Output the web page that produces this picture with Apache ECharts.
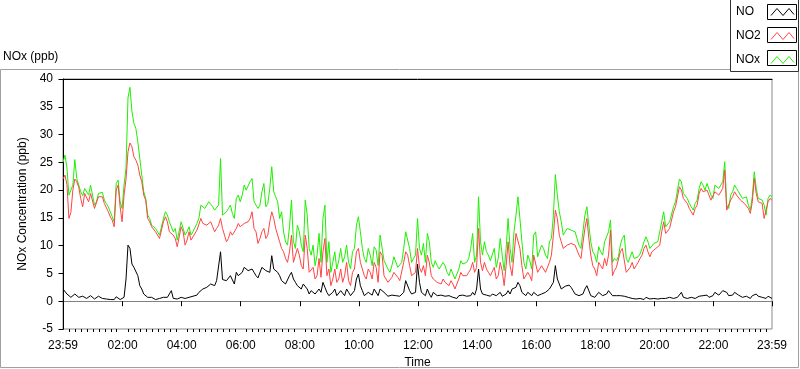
<!DOCTYPE html>
<html><head><meta charset="utf-8">
<script src="https://cdn.jsdelivr.net/npm/echarts@6/dist/echarts.min.js"></script>
<style>html,body{margin:0;padding:0;background:#fff}#c{width:800px;height:369px}</style>
</head><body><div id="c"></div>
<script>
// ---- data (minutes relative to midnight; first sample 23:59 previous day, one sample every 4 minutes)
const seriesNames = ['NO', 'NO2', 'NOx'];
const startMinute = -1;
const stepMinutes = 4;

const noValues = [
 2.2, 1.9, 1.3, 1.0, 0.7, 1.0, 1.3, 1.3, 0.7, 0.4,
 0.9, 1.0, 0.5, 0.7, 1, 1.3, 0.4, 0.5, 0.9, 1.0,
 0.5, 0.5, 0.4, 0.4, 0.3, 0.5, 0.3, 0.8, 0.7, 0.3,
 0.3, 0.7, 4, 10.1, 9.5, 6.7, 6.1, 5.8, 4.6, 2.8,
 2.2, 1.3, 1, 0.7, 0.5, 0.7, 1, 0.3, 0.3, 0.5,
 0.4, 0.7, 0.5, 0.7, 1.3, 1.9, 0.5, 0.5, 0.4, 0.4,
 0.7, 0.7, 0.5, 0.5, 0.7, 0.9, 0.9, 1.0, 1.1, 1.6,
 1.9, 2.2, 2.3, 2.5, 2.8, 3.1, 3, 2.8, 3.7, 4.0,
 8.9, 3.9, 3.7, 3.7, 3.9, 4.6, 4.3, 3.1, 5.2, 4.6,
 4.3, 5.2, 6.1, 6.1, 5.5, 5.5, 5.8, 5.2, 4.6, 4.2,
 4.3, 6.1, 5.8, 5.5, 5.2, 5.2, 8.2, 5.8, 5.8, 5.2,
 4.6, 3.7, 3.4, 3.1, 2.8, 4.6, 5.2, 4.0, 3.4, 2.8,
 2.8, 2.2, 3.1, 3.4, 2.2, 1.3, 1.9, 2.2, 1.3, 1.3,
 2.2, 1.6, 3.4, 2.5, 1.6, 1.0, 1.3, 1.6, 2.2, 1.0,
 1.1, 1.9, 1.6, 1.0, 2.2, 1.6, 1, 1.3, 1.9, 4.0,
 4.9, 2.8, 1.9, 1.0, 1, 1.6, 1.6, 1.1, 2.2, 2.5,
 1, 2.2, 2.5, 1.6, 1.3, 0.9, 1, 1.1, 1.3, 1.0,
 0.9, 0.9, 1, 1.6, 3.7, 3.4, 1.9, 1.3, 1.3, 1.6,
 6.7, 3.4, 1.6, 1.3, 1, 2.2, 1.3, 0.7, 1.6, 1.3,
 1, 0.9, 1.1, 1.3, 0.9, 0.9, 1, 0.7, 0.7, 0.4,
 0.5, 1.0, 1.3, 1.1, 1, 0.9, 0.9, 1.0, 1.6, 1.1,
 2.2, 5.8, 2.2, 1.3, 1.6, 1.1, 1, 0.9, 1.3, 1.6,
 1, 1.0, 1.6, 0.9, 0.7, 1.3, 1.9, 1.3, 2.2, 1.9,
 2.5, 3.4, 2.8, 1.6, 1.3, 1.0, 1.6, 1.3, 1, 1.6,
 1.3, 1.0, 1, 1.3, 1.1, 1.6, 1.9, 2.2, 2.2, 3.4,
 6.4, 4.0, 3.1, 2.2, 2.2, 2.7, 2.8, 2.9, 2.5, 1.9,
 1.3, 1.0, 1, 1.0, 1.3, 2.2, 2.8, 2.8, 1, 0.9,
 0.7, 0.7, 1.6, 1.3, 1, 1.0, 1.3, 1.9, 1.9, 1.0,
 1, 1.0, 0.9, 1.0, 1.1, 0.9, 0.7, 0.7, 0.7, 0.5,
 0.5, 0.4, 0.5, 0.5, 0.4, 0.3, 0.7, 0.7, 0.4, 0.5,
 0.5, 0.4, 0.4, 0.5, 0.5, 0.4, 0.5, 0.5, 0.7, 0.5,
 0.5, 0.7, 0.7, 0.9, 1.6, 0.7, 0.7, 0.5, 0.5, 0.7,
 0.5, 0.5, 0.7, 0.9, 1, 1.0, 0.9, 1.1, 0.7, 0.9,
 1, 1.6, 1.3, 1.1, 1, 1.9, 1.7, 1.6, 1, 0.9,
 1.1, 1.6, 1.5, 1.1, 0.9, 0.7, 0.7, 0.9, 0.7, 0.5,
 1, 1.3, 1.3, 0.9, 0.7, 0.7, 0.7, 0.5, 0.9, 0.7,
 0.5
];

const no2Values = [
 22, 22.7, 21, 14.9, 16, 20, 22, 21.5, 20.5, 18.5,
 17, 19.4, 19.1, 17.9, 19.4, 19.7, 16.7, 17.0, 18.8, 18.5,
 18.8, 17.6, 17.3, 16.1, 15.2, 14.6, 13.4, 20.0, 20.9, 17.0,
 14.3, 19.1, 22, 26.9, 28.5, 27.8, 26, 25.4, 24.5, 22.7,
 21.5, 19.1, 18.2, 14.9, 14.3, 13.4, 13.1, 12.5, 12.2, 11.3,
 11.6, 14.3, 15.2, 14.3, 12.5, 12.5, 11.9, 11.3, 9.8, 9.5,
 13.4, 12.5, 10.1, 11.0, 12.5, 11.0, 11.6, 11.9, 12.8, 13.1,
 14.9, 14.0, 14.3, 13.7, 14, 14.3, 13.4, 12.5, 13.1, 13.7,
 14.9, 13.1, 11.9, 10.7, 11.3, 12.5, 11.9, 11.6, 13.1, 14.0,
 13.4, 13.7, 14, 14.3, 14.3, 14.9, 16.1, 13.1, 12.5, 10.4,
 11.3, 12.5, 13.1, 11.3, 11.9, 14.3, 16.1, 14.9, 13.1, 13.4,
 10.7, 9.5, 8.9, 7.7, 7, 8.9, 11.9, 7.0, 7, 9.5,
 8.3, 6.4, 5.8, 11.9, 9.5, 5.2, 5.2, 6.1, 4, 4.6,
 7.7, 4.3, 8.9, 11.3, 4.6, 5.8, 2.8, 4.0, 5.8, 3.4,
 4, 5.8, 3.4, 4.6, 7, 3.7, 2.8, 5.2, 5.8, 8.9,
 9.5, 7.0, 5.8, 4.6, 4, 5.8, 5.2, 4.0, 7, 6.1,
 3.4, 8.9, 8.3, 4.6, 4, 3.4, 3.7, 4.3, 5.2, 5.2,
 4.3, 3.7, 4, 7.0, 8.9, 8.3, 6.4, 4.6, 4.6, 5.2,
 9.5, 6.1, 5.2, 6.4, 4.6, 8.3, 7, 4.6, 4, 4.3,
 3.4, 3.7, 3.1, 4.0, 3.4, 3.1, 2.8, 3.7, 3.1, 2.2,
 2.5, 4.0, 5.2, 4.6, 4.6, 4.6, 5.2, 5.8, 7, 5.2,
 6.1, 13.1, 7.0, 5.5, 7, 5.8, 5.2, 4.6, 4.6, 6.1,
 4, 4.6, 7, 5.5, 2.8, 6.4, 10.7, 6.4, 4.6, 8.3,
 12.2, 12.5, 9.5, 6.4, 4, 3.7, 5.2, 4.6, 3.7, 8.3,
 8.3, 5.2, 5.2, 6.4, 6.1, 5.2, 5.2, 7.0, 8.3, 11.9,
 16.4, 14.9, 11.9, 10.7, 9.5, 9.8, 10.1, 10.4, 10.4, 10.1,
 10.1, 9.2, 8.3, 7.7, 7.7, 13.1, 14.9, 11.3, 8.3, 6.4,
 5.8, 4.6, 7, 6.4, 5.8, 7.7, 6.4, 8.3, 12.8, 4.6,
 5.5, 6.1, 6.4, 8.9, 9.5, 9.5, 5.2, 5.5, 6.1, 7.0,
 5.8, 6.4, 7, 7.7, 8.3, 9.5, 10.1, 8.9, 8, 8.9,
 9.2, 9.5, 9.8, 10.1, 12.5, 14.3, 12.2, 12.5, 13.1, 13.4,
 16.1, 17.0, 17.3, 20.6, 20, 18.5, 18.2, 17.6, 16.7, 16.1,
 15.5, 16.7, 17.3, 19.4, 20.3, 19.7, 19.4, 20.0, 19.7, 18.2,
 17.9, 19.7, 20, 19.1, 19.4, 20.3, 23.6, 16.4, 16.1, 18.2,
 18.8, 19.7, 19.1, 18.8, 18.2, 17.9, 17.6, 17.9, 16.7, 15.8,
 17.9, 22.1, 19.4, 17.9, 17.6, 17.6, 14.9, 14.6, 17.9, 18.5,
 18.2
];

const noxValues = [
 25, 26.3, 24, 19.1, 19, 20.9, 25.5, 22.1, 22, 19.7,
 19, 20.3, 20.3, 19.1, 20.9, 20.9, 17.3, 17.9, 19.4, 19.4,
 19.6, 18.2, 17.6, 17.0, 16.1, 15.2, 14.3, 21.2, 21.8, 17.9,
 16.7, 20.9, 24, 36.6, 38.5, 34.2, 32, 31.1, 28.7, 25.7,
 22.7, 19.7, 18.5, 15.5, 14.9, 13.7, 13.7, 13.1, 13.1, 11.9,
 12.2, 14.9, 16.1, 15.5, 14.3, 13.4, 12.5, 13.1, 11, 10.7,
 14.3, 13.1, 11.9, 12.5, 13.4, 11.9, 12.5, 12.8, 14, 14.9,
 17.3, 17.0, 16.7, 16.4, 17.9, 17.6, 17, 16.4, 16.7, 17.3,
 25.7, 15.5, 15.5, 16.1, 16.7, 17.3, 15.8, 14.9, 18.5, 19.1,
 17.9, 19.1, 20.9, 20.0, 20, 21.5, 22.1, 17.9, 17.6, 16.7,
 17.3, 19.7, 21.2, 17.0, 17.6, 20.3, 24.2, 19.7, 18.8, 17.9,
 14.9, 16.1, 12.5, 10.7, 10.1, 13.4, 18.2, 10.7, 9.5, 13.7,
 12.5, 10.1, 8.9, 18.2, 15.5, 9.5, 8.3, 10.1, 6.4, 8.3,
 12.2, 7.0, 14.9, 17.3, 7, 10.7, 5.2, 7.0, 8.9, 5.8,
 7.3, 9.5, 7, 8.0, 10.1, 7.0, 5.8, 8.9, 9.5, 13.7,
 15.2, 12.5, 9.5, 7.7, 7, 9.5, 8.3, 6.4, 9.8, 9.2,
 6.4, 11.9, 11.9, 7.3, 7, 5.8, 5.2, 6.4, 8, 8.3,
 6.1, 5.8, 7, 9.5, 12.5, 12.5, 9.5, 7.0, 7.7, 8.3,
 14.9, 9.5, 8.3, 10.4, 7, 12.2, 10.7, 7.0, 6.1, 7.3,
 6.4, 5.8, 5.5, 7.0, 6.4, 5.2, 4.6, 5.8, 4.9, 4.0,
 4.3, 5.8, 7.3, 6.7, 6.4, 7.0, 7.7, 9.5, 12.2, 7.0,
 8.3, 18.8, 10.7, 8.3, 10.7, 8.9, 8.3, 7.3, 7, 9.5,
 6.1, 7.7, 11.3, 8.3, 5.5, 9.5, 14.9, 9.5, 7, 12.5,
 15.5, 18.8, 14.9, 10.7, 7, 5.8, 8.3, 7.3, 5.8, 11.9,
 12.5, 8.0, 8, 10.1, 9.5, 8.3, 7.7, 10.7, 11.3, 15.5,
 22.8, 19.1, 16.1, 14.3, 11.9, 12.5, 13.1, 13.4, 12.8, 12.5,
 12.5, 11.3, 10.1, 9.5, 9.5, 15.5, 17, 13.7, 10.7, 8.9,
 8.3, 7.0, 9.8, 8.9, 8.3, 10.7, 10.4, 12.5, 14.6, 7.0,
 7.7, 7.3, 8, 10.1, 11.3, 11.9, 7.7, 7.0, 8, 8.9,
 7.7, 8.0, 8, 8.5, 9.5, 10.7, 11.6, 10.7, 9.5, 9.8,
 10.4, 10.4, 10.7, 11.0, 14.3, 16.1, 13.4, 13.7, 14.3, 14.6,
 17, 17.9, 18.2, 22.0, 21.5, 19.4, 19.1, 18.5, 17.6, 17.0,
 16.4, 17.6, 18.2, 20.3, 21.5, 20.9, 20, 21.2, 20.9, 19.1,
 18.5, 20.9, 21.2, 20.3, 20.6, 21.5, 25.1, 17.3, 16.7, 19.1,
 19.7, 20.9, 20.3, 19.7, 19.1, 18.5, 18.2, 18.8, 17.3, 16.4,
 18.8, 23.3, 20.3, 18.5, 18.2, 18.2, 17.3, 15.5, 18.5, 19.1,
 18.8
];

const majorTickMinutes = [-1, 120, 240, 360, 480, 600, 720, 840, 960, 1080, 1200, 1320, 1439];
const majorTickLabels = ['23:59', '02:00', '04:00', '06:00', '08:00', '10:00', '12:00', '14:00', '16:00', '18:00', '20:00', '22:00', '23:59'];
const yTickMin = -5, yTickMax = 40, yTickStep = 5;

// ---- build
const FONT = 'Liberation Sans';
const minorTickMinutes = [];
for (let m = 12; m < 1439; m += 12) { if (m % 120 !== 0) minorTickMinutes.push(m); }
function pairs(vals) { return vals.map((v, i) => [startMinute + stepMinutes * i, v]); }
const colors = {NO: '#000000', NO2: '#ff4444', NOx: '#1ef000'};
const zOrder = {NO: 4, NO2: 3, NOx: 2};
const valueSets = {NO: noValues, NO2: no2Values, NOx: noxValues};

const chart = echarts.init(document.getElementById('c'), null, {renderer: 'canvas'});
chart.setOption({
  animation: false,
  backgroundColor: '#ffffff',
  textStyle: {fontFamily: FONT},
  title: {text: 'NOx (ppb)', left: 3, top: 51, padding: 0,
    textStyle: {fontSize: 12, fontWeight: 'normal', color: '#000', fontFamily: FONT}},
  grid: {left: 63, right: 28, top: 79, bottom: 40, outerBoundsMode: 'none', containLabel: false,
    show: true, borderColor: '#8a8a8a', borderWidth: 1, backgroundColor: '#fff'},
  legend: {
    orient: 'vertical', left: 736, top: 4, padding: 0, itemGap: 8,
    itemWidth: 30, itemHeight: 15, align: 'right', selectedMode: false,
    icon: 'path://M0,0M30,15M4,11L10,4L16,11L22,4L27,10',
    formatter: name => '{t|' + name + '}',
    textStyle: {rich: {t: {width: 26, align: 'left', fontSize: 12, fontFamily: FONT, color: '#000'}}},
    data: seriesNames.map(n => ({name: n, itemStyle: {color: 'transparent', borderColor: colors[n], borderWidth: 1}}))
  },
  xAxis: [
    {type: 'value', min: -1, max: 1439, position: 'bottom',
     axisLine: {show: true, lineStyle: {color: '#808080', width: 1}},
     axisTick: {show: true, customValues: majorTickMinutes, length: 5, lineStyle: {color: '#000'}},
     axisLabel: {customValues: majorTickMinutes, margin: 11, fontSize: 12, color: '#000', fontFamily: FONT,
       formatter: v => { const k = majorTickMinutes.indexOf(Math.round(v)); return k >= 0 ? majorTickLabels[k] : ''; }},
     splitLine: {show: false},
     name: 'Time', nameLocation: 'middle', nameGap: 28,
     nameTextStyle: {fontSize: 12, color: '#000', fontFamily: FONT}},
    {type: 'value', min: -1, max: 1439, position: 'bottom',
     axisLine: {show: false},
     axisTick: {show: true, customValues: minorTickMinutes, length: 3, lineStyle: {color: '#000'}},
     axisLabel: {show: false}, splitLine: {show: false}},
    {type: 'value', min: -1, max: 1439, position: 'top',
     axisLine: {show: true, lineStyle: {color: '#000', width: 1}},
     axisTick: {show: false}, axisLabel: {show: false}, splitLine: {show: false}}
  ],
  yAxis: {type: 'value', min: yTickMin, max: yTickMax, interval: yTickStep,
    axisLine: {show: true, lineStyle: {color: '#000', width: 1}},
    axisTick: {show: true, length: 5, lineStyle: {color: '#000'}},
    axisLabel: {margin: 10, fontSize: 12, color: '#000', fontFamily: FONT},
    splitLine: {show: false},
    name: 'NOx Concentration (ppb)', nameLocation: 'middle', nameGap: 25, nameRotate: 90,
    nameTextStyle: {fontSize: 12, color: '#000', fontFamily: FONT}},
  graphic: [
    {type: 'rect', z: -10, shape: {x: 0.5, y: 69.5, width: 798, height: 298}, style: {fill: 'none', stroke: '#a0a0a0', lineWidth: 1}},
    {type: 'rect', z: -5, shape: {x: 730.5, y: -1, width: 68, height: 72.5}, style: {fill: '#fff', stroke: '#333', lineWidth: 1}},
    {type: 'rect', z: -4, shape: {x: 767.5, y: 4.5, width: 29, height: 15}, style: {fill: '#fff', stroke: '#000', lineWidth: 1}},
    {type: 'rect', z: -4, shape: {x: 767.5, y: 27.5, width: 29, height: 15}, style: {fill: '#fff', stroke: '#000', lineWidth: 1}},
    {type: 'rect', z: -4, shape: {x: 767.5, y: 50.5, width: 29, height: 15}, style: {fill: '#fff', stroke: '#000', lineWidth: 1}}
  ],
  series: seriesNames.map(n => ({
    name: n, type: 'line', xAxisIndex: 0, data: pairs(valueSets[n]),
    symbol: 'none', showSymbol: false, z: zOrder[n],
    lineStyle: {width: 1, color: colors[n]}, itemStyle: {color: colors[n]}
  }))
});
</script></body></html>
